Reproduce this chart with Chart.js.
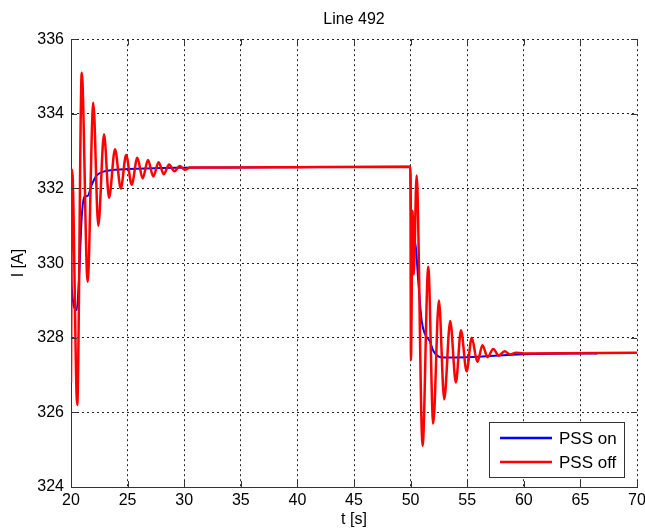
<!DOCTYPE html>
<html>
<head>
<meta charset="utf-8">
<script src="https://cdn.jsdelivr.net/npm/chart.js@4/dist/chart.umd.min.js"></script>
<style>
  body { margin: 0; background: #fff; }
  canvas { display: block; }
</style>
</head>
<body>
<canvas id="chart" width="645" height="531"></canvas>
<script>
// values
const tOn = [20.0, 20.05, 20.5, 20.71, 20.94, 21.18, 21.47, 21.83, 22.27, 22.86, 23.9, 25, 28, 34, 49.98,
             50.04, 50.18, 50.39, 50.68, 50.98, 51.27, 51.71, 52.0, 52.45, 52.9, 55, 60, 66.5];
const iOn = [330.2, 329.4, 328.74, 329.6, 331.2, 331.77, 331.8, 332.1, 332.35, 332.45, 332.5, 332.52, 332.55, 332.56, 332.58,
             331.1, 330.0, 330.6, 329.5, 328.45, 328.1, 327.9, 327.65, 327.5, 327.47, 327.48, 327.56, 327.58];

const tOff = [20.0, 20.1, 20.55, 20.95, 21.47, 21.97, 22.41, 22.92, 23.36, 23.89, 24.4, 24.87, 25.36, 25.86,
              26.33, 26.8, 27.27, 27.74, 28.2, 28.66, 29.13, 29.6, 30.07, 30.5, 34, 40, 49.98,
              50.03, 50.18, 50.28, 50.53, 51.06, 51.56, 52.0, 52.5, 52.97, 53.5, 54.0, 54.45, 54.95,
              55.4, 55.9, 56.35, 56.8, 57.3, 57.8, 58.3, 58.8, 59.3, 60, 70];
const iOff = [326.8, 332.5, 326.2, 335.1, 329.5, 334.3, 331.0, 333.45, 331.75, 333.05, 332.0, 332.9, 332.1, 332.82,
              332.27, 332.76, 332.32, 332.7, 332.38, 332.64, 332.46, 332.6, 332.5, 332.56, 332.56, 332.57, 332.58,
              327.4, 331.4, 329.7, 332.35, 325.1, 329.9, 325.7, 329.0, 326.35, 328.45, 326.8, 328.2, 327.1,
              328.0, 327.35, 327.8, 327.48, 327.7, 327.52, 327.64, 327.55, 327.6, 327.58, 327.6];

const xTicks = [20, 25, 30, 35, 40, 45, 50, 55, 60, 65, 70];
const yTicks = [324, 326, 328, 330, 332, 334, 336];

const FONT = "'Liberation Sans', Arial, sans-serif";

function toPoints(xs, ys) {
    return xs.map(function(x, i) { return { x: x, y: ys[i] }; });
}

// MATLAB style legend box inside the axes, bottom right
const boxLegend = {
    id: 'boxLegend',
    afterDraw: function(chart) {
        const ctx = chart.ctx;
        const area = chart.chartArea;
        const w = 135, h = 55;
        const x = area.right - 13 - w;
        const y = area.bottom - 10 - h;
        ctx.save();
        ctx.fillStyle = '#fff';
        ctx.fillRect(x, y, w, h);
        ctx.strokeStyle = '#333';
        ctx.lineWidth = 1;
        ctx.strokeRect(x + 0.5, y + 0.5, w, h);
        ctx.font = '17px ' + FONT;
        ctx.textBaseline = 'middle';
        chart.data.datasets.forEach(function(ds, i) {
            const ly = y + 16 + i * 24;
            ctx.strokeStyle = ds.borderColor;
            ctx.lineWidth = 2.5;
            ctx.beginPath();
            ctx.moveTo(x + 11, ly);
            ctx.lineTo(x + 63, ly);
            ctx.stroke();
            ctx.fillStyle = '#000';
            ctx.fillText(ds.label, x + 70, ly + 1);
        });
        ctx.restore();
    }
};

// inward tick marks on all four sides
const innerTicks = {
    id: 'innerTicks',
    afterDatasetsDraw: function(chart) {
        const ctx = chart.ctx;
        const area = chart.chartArea;
        const xs = chart.scales.x, ys = chart.scales.y;
        const len = 6;
        ctx.save();
        ctx.strokeStyle = '#333';
        ctx.lineWidth = 1;
        ctx.beginPath();
        xTicks.forEach(function(v) {
            const px = Math.round(xs.getPixelForValue(v)) + 0.5;
            ctx.moveTo(px, area.bottom);
            ctx.lineTo(px, area.bottom - len);
            ctx.moveTo(px, area.top);
            ctx.lineTo(px, area.top + len);
        });
        yTicks.forEach(function(v) {
            const py = Math.round(ys.getPixelForValue(v)) + 0.5;
            ctx.moveTo(area.left, py);
            ctx.lineTo(area.left + len, py);
            ctx.moveTo(area.right, py);
            ctx.lineTo(area.right - len, py);
        });
        ctx.stroke();
        ctx.restore();
    }
};

new Chart(document.getElementById('chart'), {
    type: 'line',
    data: {
        datasets: [{
            label: 'PSS on',
            data: toPoints(tOn, iOn),
            borderColor: '#0000ff',
            borderWidth: 2,
            pointRadius: 0,
            cubicInterpolationMode: 'monotone',
            order: 1
        }, {
            label: 'PSS off',
            data: toPoints(tOff, iOff),
            borderColor: '#ff0000',
            borderWidth: 2.5,
            pointRadius: 0,
            cubicInterpolationMode: 'monotone',
            order: 0
        }]
    },
    options: {
        responsive: false,
        animation: false,
        layout: { padding: { top: 0, right: 8, left: 0, bottom: 0 } },
        plugins: {
            legend: { display: false },
            tooltip: { enabled: false },
            title: {
                display: true,
                text: 'Line 492',
                fullSize: false,
                color: '#000',
                font: { family: FONT, size: 16, weight: 'normal' },
                padding: { top: 10, bottom: 10 }
            }
        },
        scales: {
            x: {
                type: 'linear',
                min: 20,
                max: 70,
                afterFit: function(scale) {
                    scale.height = 44;
                    // let the last label run off the edge like the original
                    scale.paddingLeft = 0;
                    scale.paddingRight = 0;
                },
                afterBuildTicks: function(scale) {
                    scale.ticks = xTicks.map(function(v) { return { value: v }; });
                },
                ticks: {
                    color: '#000',
                    padding: 4,
                    maxRotation: 0,
                    font: { family: FONT, size: 16 }
                },
                grid: { color: '#222', lineWidth: 1, drawTicks: false },
                border: { display: true, color: '#333', width: 1, dash: [2, 3] },
                title: {
                    display: true,
                    text: 't [s]',
                    color: '#000',
                    font: { family: FONT, size: 16 },
                    padding: { top: 0, bottom: 2 }
                }
            },
            y: {
                min: 324,
                max: 336,
                afterFit: function(scale) {
                    scale.width = 71;
                    scale.paddingTop = 0;
                    scale.paddingBottom = 0;
                },
                afterBuildTicks: function(scale) {
                    scale.ticks = yTicks.map(function(v) { return { value: v }; });
                },
                ticks: {
                    color: '#000',
                    padding: 7,
                    font: { family: FONT, size: 16 }
                },
                grid: { color: '#222', lineWidth: 1, drawTicks: false },
                border: { display: true, color: '#333', width: 1, dash: [2, 3] },
                title: {
                    display: true,
                    text: 'I [A]',
                    color: '#000',
                    font: { family: FONT, size: 16 },
                    padding: { top: 9, bottom: 0 }
                }
            }
        }
    },
    plugins: [innerTicks, boxLegend]
});
</script>
</body>
</html>
